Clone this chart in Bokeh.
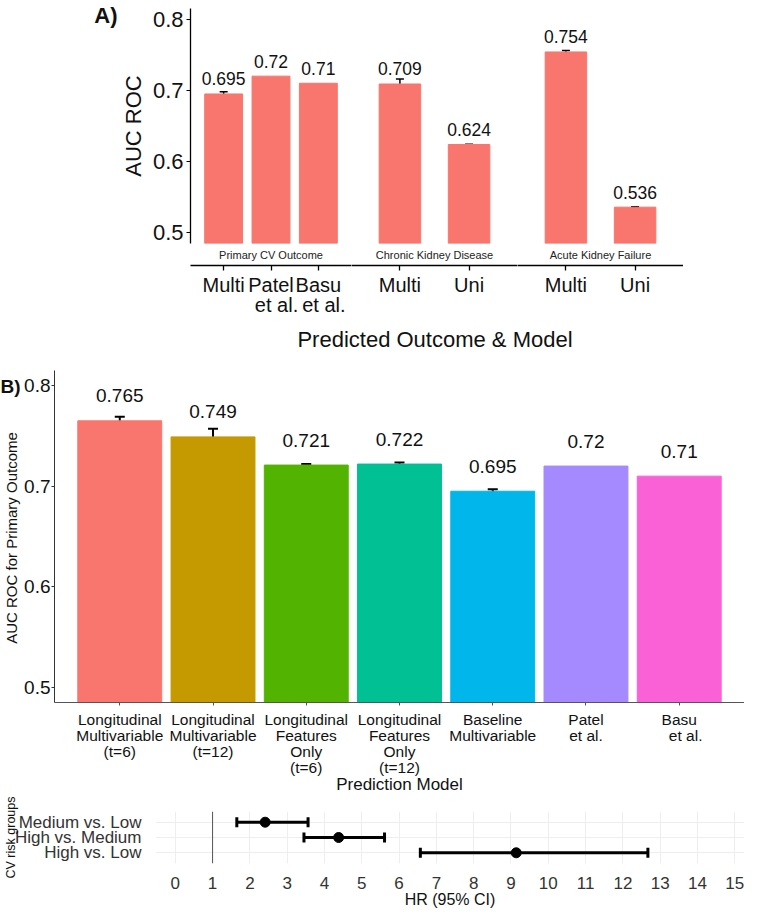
from bokeh.plotting import figure
from bokeh.models import (FactorRange, Range1d, ColumnDataSource, Whisker, TeeHead, Title,
                          CategoricalAxis, Span, FixedTicker)
from bokeh.layouts import column, row
from bokeh.embed import file_html
from bokeh.resources import INLINE
from bokeh.core.properties import value

FONT = "Liberation Sans"
NB = "\u00a0"

# ---------------- Panel A data ----------------
facet_names = ["Primary CV Outcome", "Chronic Kidney Disease", "Acute Kidney Failure"]
cv_models = ["Multi", "Patel\n" + NB + NB + "et al.", "Basu\n" + NB + NB + "et al."]
cv_auc = [0.695, 0.72, 0.71]
cv_err = [0.003, 0.0, 0.0]
ckd_models = ["Multi", "Uni"]
ckd_auc = [0.709, 0.624]
ckd_err = [0.007, 0.0005]
akf_models = ["Multi", "Uni"]
akf_auc = [0.754, 0.536]
akf_err = [0.002, 0.0005]
auc_ticks = [0.5, 0.6, 0.7, 0.8]
a_xtitle = "Predicted Outcome & Model"
a_ytitle = "AUC ROC"

# ---------------- Panel B data ----------------
b_models = ["Longitudinal\nMultivariable\n(t=6)",
            "Longitudinal\nMultivariable\n(t=12)",
            "Longitudinal\nFeatures\nOnly\n(t=6)",
            "Longitudinal\nFeatures\nOnly\n(t=12)",
            "Baseline\nMultivariable",
            "Patel\net al.",
            "Basu\n" + NB + NB + NB + "et al."]
b_auc = [0.765, 0.749, 0.721, 0.722, 0.695, 0.72, 0.71]
b_err = [0.004, 0.008, 0.001, 0.0015, 0.002, 0.0, 0.0]
b_colors = ["#F8766D", "#C49A00", "#53B400", "#00C094", "#00B6EB", "#A58AFF", "#FB61D7"]
b_xtitle = "Prediction Model"
b_ytitle = "AUC ROC for Primary Outcome"

# ---------------- Panel C data ----------------
hr_groups = ["Medium vs. Low", "High vs. Medium", "High vs. Low"]
hr_est = [2.41, 4.38, 9.14]
hr_lo = [1.65, 3.45, 6.57]
hr_hi = [3.56, 5.61, 12.67]
hr_ticks = [0, 1, 2, 3, 4, 5, 6, 7, 8, 9, 10, 11, 12, 13, 14, 15]
hr_ref = 1

Y0, Y1 = 0.485, 0.815
INK = "#111111"


def blank(width, height, **kw):
    p = figure(width=width, height=height, output_backend="svg", toolbar_location=None,
               x_axis_location=None, y_axis_location=None, **kw)
    p.outline_line_color = None
    p.grid.visible = False
    return p


def err_source(models, auc, err):
    ex = [m for m, e in zip(models, err) if e > 0]
    eu = [a + e for a, e in zip(auc, err) if e > 0]
    el = [a - e for a, e in zip(auc, err) if e > 0]
    return ColumnDataSource(dict(x=ex, upper=eu, lower=el))


def facet(models, auc, err, name, bar_w, width, first):
    p = figure(x_range=FactorRange(*models, range_padding=0.2, range_padding_units="absolute"),
               y_range=Range1d(Y0, Y1), width=width, height=320,
               output_backend="svg", toolbar_location=None,
               x_axis_location=None, y_axis_location="left" if first else None,
               min_border_left=68 if first else 0, min_border_right=0,
               min_border_top=8, min_border_bottom=77)
    p.outline_line_color = None
    p.grid.visible = False
    src = ColumnDataSource(dict(x=models, top=auc, label=[f"{v:g}" for v in auc]))
    p.vbar(x="x", top="top", bottom=0, width=bar_w, source=src,
           fill_color="#F8766D", line_color="#F8766D")
    p.add_layout(Whisker(source=err_source(models, auc, err), base="x",
                         upper="upper", lower="lower",
                         line_width=1.5, line_color="black",
                         upper_head=TeeHead(size=8, line_width=1.5, line_color="black"),
                         lower_head=TeeHead(size=8, line_width=1.5, line_color="black")))
    p.text(x="x", y="top", text="label", source=src, y_offset=-15,
           text_align="center", text_baseline="middle",
           text_font=value(FONT), text_font_size=value("17.5px"), text_color=INK)
    strip = Title(text=name, align="center", vertical_align="middle",
                  text_font=FONT, text_font_size="11px", text_font_style="normal",
                  text_color="#222222", standoff=8)
    p.add_layout(strip, "below")
    ax = CategoricalAxis(axis_line_color="black", axis_line_width=1.3,
                         major_tick_line_color="black", major_tick_line_width=1.3,
                         major_tick_out=5, major_tick_in=0,
                         major_label_standoff=3,
                         major_label_text_font=FONT, major_label_text_font_size="20px",
                         major_label_text_color=INK,
                         major_label_text_line_height=0.95)
    p.add_layout(ax, "below")
    if first:
        ya = p.yaxis[0]
        ya.ticker = FixedTicker(ticks=auc_ticks)
        ya.axis_line_color = "black"
        ya.axis_line_width = 1.3
        ya.major_tick_line_color = "black"
        ya.major_tick_out = 4
        ya.major_tick_in = 0
        ya.minor_tick_line_color = None
        ya.major_label_standoff = 3
        ya.major_label_text_font = FONT
        ya.major_label_text_font_size = "22px"
        ya.major_label_text_color = INK
        ya.axis_label = a_ytitle
        ya.axis_label_text_font = FONT
        ya.axis_label_text_font_size = "22px"
        ya.axis_label_text_font_style = "normal"
        ya.axis_label_text_color = INK
        ya.axis_label_standoff = 4
    return p


# "A)" tag
a_tag = blank(117, 320, min_border_left=0, min_border_right=0, min_border_top=0,
              min_border_bottom=0, title="A)")
a_tag.title.align = "right"
a_tag.title.vertical_align = "top"
a_tag.title.standoff = 5
a_tag.title.text_font = FONT
a_tag.title.text_font_size = "22px"
a_tag.title.text_font_style = "bold"
a_tag.title.text_color = INK

a1 = facet(cv_models, cv_auc, cv_err, facet_names[0], 0.8, 234, True)
a2 = facet(ckd_models, ckd_auc, ckd_err, facet_names[1], 0.6, 166, False)
a3 = facet(akf_models, akf_auc, akf_err, facet_names[2], 0.6, 166, False)

# shared x title of panel A
a_title = blank(744, 34, min_border_left=185, min_border_right=60, min_border_top=32,
                min_border_bottom=0, title=a_xtitle)
a_title.title.align = "center"
a_title.title.vertical_align = "middle"
a_title.title.standoff = 0
a_title.title.text_font = FONT
a_title.title.text_font_size = "22px"
a_title.title.text_font_style = "normal"
a_title.title.text_color = INK

# ---------------- Panel B ----------------
b_tag = blank(21, 443, min_border_left=0, min_border_right=0, min_border_top=43,
              min_border_bottom=119, title="B)")
b_tag.title.align = "right"
b_tag.title.offset = 1
b_tag.title.vertical_align = "middle"
b_tag.title.standoff = 0
b_tag.title.text_font = FONT
b_tag.title.text_font_size = "19px"
b_tag.title.text_font_style = "bold"
b_tag.title.text_color = INK
b_tag.add_layout(Title(text=b_ytitle, align="center", standoff=0, text_font=FONT,
                       text_font_size="15px", text_font_style="normal",
                       text_color=INK), "left")

pb = figure(x_range=FactorRange(*b_models, range_padding=0.2, range_padding_units="absolute"),
            y_range=Range1d(Y0, Y1), width=723, height=443,
            output_backend="svg", toolbar_location=None,
            min_border_left=31, min_border_right=0, min_border_top=16, min_border_bottom=92)
pb.outline_line_color = None
pb.grid.visible = False
bsrc = ColumnDataSource(dict(x=b_models, top=b_auc, color=b_colors,
                             label=[f"{v:g}" for v in b_auc]))
pb.vbar(x="x", top="top", bottom=0, width=0.9, source=bsrc,
        fill_color="color", line_color="color")
pb.add_layout(Whisker(source=err_source(b_models, b_auc, b_err), base="x",
                      upper="upper", lower="lower",
                      line_width=2, line_color="black",
                      upper_head=TeeHead(size=10, line_width=2, line_color="black"),
                      lower_head=TeeHead(size=10, line_width=2, line_color="black")))
pb.text(x="x", y="top", text="label", source=bsrc, y_offset=-25,
        text_align="center", text_baseline="middle",
        text_font=value(FONT), text_font_size=value("19px"), text_color=INK)
xb = pb.xaxis[0]
xb.axis_line_color = "#555555"
xb.axis_line_width = 1
xb.major_tick_line_color = "#555555"
xb.major_tick_out = 3
xb.major_tick_in = 0
xb.major_label_standoff = 5
xb.major_label_text_font = FONT
xb.major_label_text_font_size = "15.5px"
xb.major_label_text_color = INK
xb.major_label_text_line_height = 0.96
xb.axis_label = b_xtitle
xb.axis_label_text_font = FONT
xb.axis_label_text_font_size = "17px"
xb.axis_label_text_font_style = "normal"
xb.axis_label_text_color = INK
xb.axis_label_standoff = -4
yb = pb.yaxis[0]
yb.ticker = FixedTicker(ticks=auc_ticks)
yb.axis_line_color = "#333333"
yb.major_tick_line_color = "#333333"
yb.major_tick_out = 3
yb.major_tick_in = 0
yb.minor_tick_line_color = None
yb.major_label_standoff = 1
yb.major_label_text_font = FONT
yb.major_label_text_font_size = "19px"
yb.major_label_text_color = INK

# ---------------- Panel C ----------------
pc = figure(y_range=FactorRange(*reversed(hr_groups), range_padding=0.2,
                                range_padding_units="absolute"),
            x_range=Range1d(-0.53, 15.26), width=744, height=113,
            output_backend="svg", toolbar_location=None,
            min_border_left=147, min_border_right=0, min_border_top=14, min_border_bottom=43)
pc.outline_line_color = None
pc.xgrid.grid_line_color = "#eeeeee"
pc.ygrid.grid_line_color = "#eeeeee"
pc.add_layout(Span(location=hr_ref, dimension="height", line_color="#555555", line_width=1))
csrc = ColumnDataSource(dict(y=hr_groups, est=hr_est, lo=hr_lo, hi=hr_hi))
pc.add_layout(Whisker(source=csrc, base="y", upper="hi", lower="lo", dimension="width",
                      line_width=3, line_color="black",
                      upper_head=TeeHead(size=10, line_width=3, line_color="black"),
                      lower_head=TeeHead(size=10, line_width=3, line_color="black")))
pc.scatter(x="est", y="y", source=csrc, size=10, color="black")
xc = pc.xaxis[0]
xc.ticker = FixedTicker(ticks=hr_ticks)
xc.axis_line_color = None
xc.major_tick_line_color = None
xc.minor_tick_line_color = None
xc.major_label_standoff = 7
xc.major_label_text_font = FONT
xc.major_label_text_font_size = "17px"
xc.major_label_text_color = "#333333"
xc.axis_label = "HR (95% CI)"
xc.axis_label_text_font = FONT
xc.axis_label_text_font_size = "16px"
xc.axis_label_text_font_style = "normal"
xc.axis_label_text_color = INK
xc.axis_label_standoff = -1
yc = pc.yaxis[0]
yc.axis_line_color = None
yc.major_tick_line_color = None
yc.major_label_standoff = 8
yc.major_label_text_font = FONT
yc.major_label_text_font_size = "17px"
yc.major_label_text_color = "#333333"
yc.axis_label = "CV risk groups"
yc.axis_label_text_font = FONT
yc.axis_label_text_font_size = "12.5px"
yc.axis_label_text_font_style = "normal"
yc.axis_label_text_color = INK
yc.axis_label_standoff = -6

layout = column(row(column(a_tag), a1, a2, a3, spacing=0),
                row(a_title),
                row(column(b_tag), column(pb), spacing=0),
                row(pc), spacing=0)
open("out.html", "w").write(file_html(layout, INLINE))
